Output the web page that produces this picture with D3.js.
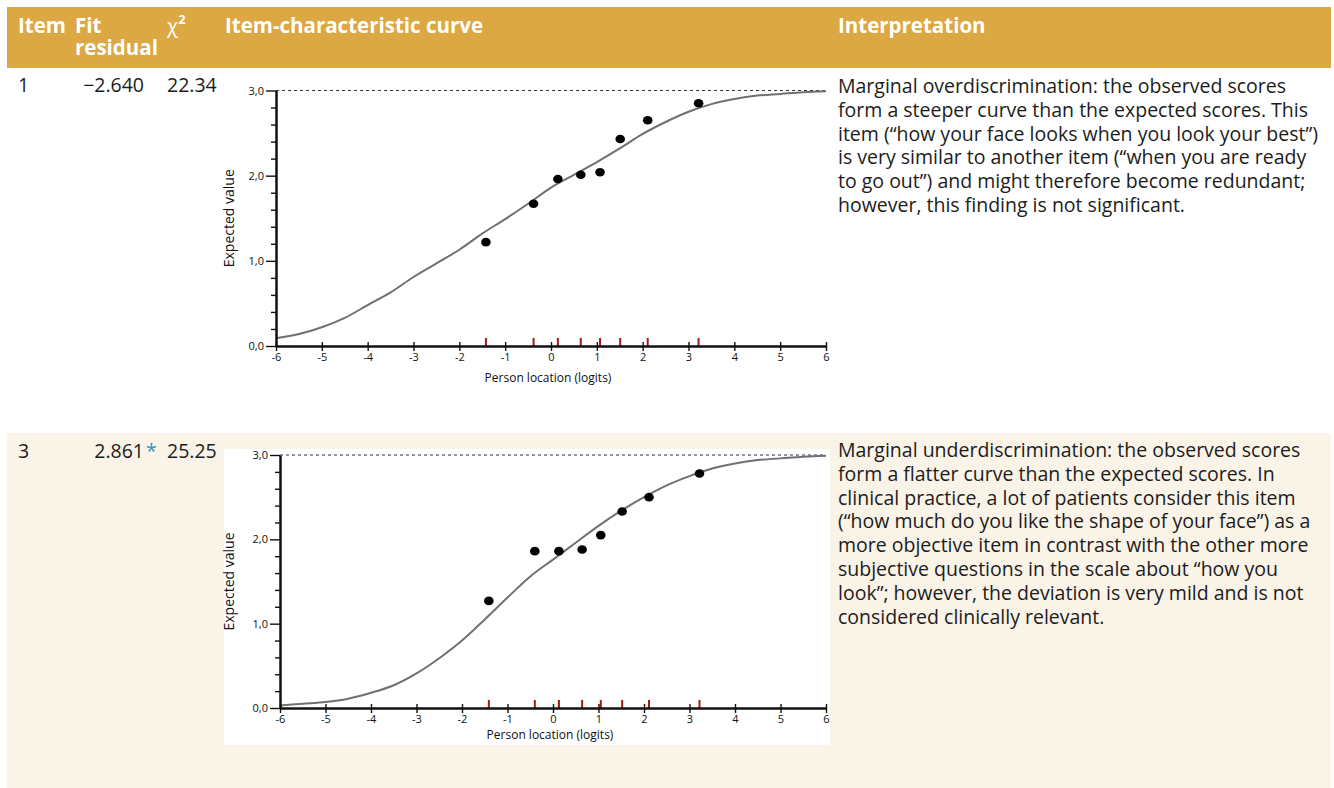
<!DOCTYPE html>
<html>
<head>
<meta charset="utf-8">
<script src="https://cdn.jsdelivr.net/npm/d3@7"></script>
<style>
  body { margin: 0; background: #fff; }
  svg { display: block; font-family: "Open Sans", sans-serif; }
</style>
</head>
<body>
<svg id="chart" width="1334" height="788"></svg>
<script>
// table content
const headers = ["Item", "Fit", "residual", "χ", "Item-characteristic curve", "Interpretation"];
const items = ["1", "3"];
const fitResiduals = ["\u22122.640", "2.861"];
const fitFlags = ["", "*"];
const chiSquares = ["22.34", "25.25"];
const interpretations = [
  ["Marginal overdiscrimination: the observed scores",
   "form a steeper curve than the expected scores. This",
   "item (\u201chow your face looks when you look your best\u201d)",
   "is very similar to another item (\u201cwhen you are ready",
   "to go out\u201d) and might therefore become redundant;",
   "however, this finding is not significant."],
  ["Marginal underdiscrimination: the observed scores",
   "form a flatter curve than the expected scores. In",
   "clinical practice, a lot of patients consider this item",
   "(\u201chow much do you like the shape of your face\u201d) as a",
   "more objective item in contrast with the other more",
   "subjective questions in the scale about \u201chow you",
   "look\u201d; however, the deviation is very mild and is not",
   "considered clinically relevant."]
];

const curveLocations = [-6, -5.5, -5, -4.5, -4, -3.5, -3, -2.5, -2, -1.5, -1, -0.5, 0,
                        0.5, 1, 1.5, 2, 2.5, 3, 3.5, 4, 4.5, 5, 5.5, 6];
const expectedItem1 = [0.09, 0.14, 0.22, 0.33, 0.48, 0.63, 0.81, 0.97, 1.13, 1.32, 1.49, 1.67, 1.86,
                       2.01, 2.16, 2.32, 2.49, 2.63, 2.75, 2.84, 2.90, 2.94, 2.96, 2.98, 2.99];
const expectedItem3 = [0.03, 0.05, 0.07, 0.11, 0.18, 0.27, 0.41, 0.59, 0.80, 1.05, 1.31, 1.56, 1.76,
                       1.96, 2.16, 2.34, 2.50, 2.64, 2.75, 2.84, 2.90, 2.94, 2.96, 2.98, 2.99];

// observed class-interval means
const obsLocItem1 = [-1.42, -0.38, 0.15, 0.65, 1.07, 1.51, 2.11, 3.22];
const obsValItem1 = [1.22, 1.67, 1.96, 2.01, 2.04, 2.43, 2.65, 2.85];
const obsLocItem3 = [-1.41, -0.40, 0.13, 0.64, 1.05, 1.52, 2.11, 3.22];
const obsValItem3 = [1.27, 1.86, 1.86, 1.88, 2.05, 2.33, 2.50, 2.78];

const xTicks = [-6, -5, -4, -3, -2, -1, 0, 1, 2, 3, 4, 5, 6];
const yTicks = [0, 1, 2, 3];

const svg = d3.select("#chart");
const gold = "#dba843";
const cream = "#faf3e8";
const ink = "#1c1c1c";

// backgrounds
svg.append("rect").attr("x", 7).attr("y", 7).attr("width", 1324).attr("height", 61).attr("fill", gold);
svg.append("rect").attr("x", 7).attr("y", 433).attr("width", 1324).attr("height", 355).attr("fill", cream);

// header
const head = svg.append("g").attr("fill", "#fff").attr("font-weight", 700).attr("font-size", 20.5);
head.append("text").attr("x", 18).attr("y", 33).text(headers[0]);
const fit = head.append("text").attr("x", 75).attr("y", 33);
fit.append("tspan").attr("x", 75).text(headers[1]);
fit.append("tspan").attr("x", 75).attr("dy", 22).text(headers[2]);
const chi = head.append("text").attr("x", 167).attr("y", 33);
chi.append("tspan").attr("font-weight", 400).text(headers[3]);
chi.append("tspan").attr("font-size", 13).attr("dy", -9).text("2");
head.append("text").attr("x", 225).attr("y", 33).text(headers[4]);
head.append("text").attr("x", 838).attr("y", 33).text(headers[5]);

// rows
const rowBase = [92, 458];
const interpBase = [93, 457];
items.forEach((item, i) => {
  const g = svg.append("g").attr("font-size", 19.5).attr("fill", ink);
  g.append("text").attr("x", 18).attr("y", rowBase[i]).text(item);
  g.append("text").attr("x", 144).attr("y", rowBase[i]).attr("text-anchor", "end").text(fitResiduals[i]);
  if (fitFlags[i]) {
    g.append("text").attr("x", 146).attr("y", rowBase[i]).attr("fill", "#2b93c2").text(fitFlags[i]);
  }
  g.append("text").attr("x", 167).attr("y", rowBase[i]).text(chiSquares[i]);
  g.append("g").selectAll("text")
    .data(interpretations[i])
    .join("text")
    .attr("x", 838)
    .attr("y", (d, k) => interpBase[i] + k * 23.8)
    .text(d => d);
});

// item-characteristic curve panel
function drawICC(cfg) {
  const g = svg.append("g");
  if (cfg.panel) {
    g.append("rect").attr("x", cfg.panel[0]).attr("y", cfg.panel[1])
      .attr("width", cfg.panel[2]).attr("height", cfg.panel[3]).attr("fill", "#fff");
  }
  const x = d3.scaleLinear().domain([-6, 6]).range(cfg.xRange);
  const y = d3.scaleLinear().domain([0, 3]).range(cfg.yRange);
  const font = "'Open Sans', sans-serif";

  // upper asymptote
  g.append("line")
    .attr("x1", x(-6)).attr("x2", x(6)).attr("y1", y(3)).attr("y2", y(3))
    .attr("stroke", "#333").attr("stroke-width", 1.1).attr("stroke-dasharray", "3,3");

  // expected curve
  const line = d3.line()
    .x((d, k) => x(curveLocations[k]))
    .y(d => y(d))
    .curve(d3.curveMonotoneX);
  g.append("path").datum(cfg.expected).attr("d", line)
    .attr("fill", "none").attr("stroke", "#707070").attr("stroke-width", 2);

  // class-interval rug
  g.append("g").selectAll("line")
    .data(cfg.obsLoc)
    .join("line")
    .attr("x1", d => x(d)).attr("x2", d => x(d))
    .attr("y1", y(0) - 8).attr("y2", y(0))
    .attr("stroke", "#a11a1a").attr("stroke-width", 2);

  // x axis
  const xAxis = g.append("g")
    .attr("transform", `translate(0,${y(0)})`)
    .call(d3.axisBottom(x).tickValues(xTicks).tickSize(5).tickSizeOuter(0).tickPadding(2)
      .tickFormat(d => String(d)));
  xAxis.select(".domain").attr("stroke", "#111").attr("stroke-width", 2.5);
  xAxis.selectAll(".tick line").attr("y1", -4).attr("stroke", "#111").attr("stroke-width", 1.4);
  xAxis.selectAll(".tick text").attr("font-family", font).attr("font-size", 11).attr("fill", "#111");

  // y axis, major and minor ticks
  const minor = d3.range(0, 3.01, 0.2).filter(v => Math.abs(v - Math.round(v)) > 0.01);
  const yMinor = g.append("g")
    .attr("transform", `translate(${x(-6)},0)`)
    .call(d3.axisLeft(y).tickValues(minor).tickSize(5).tickSizeOuter(0).tickFormat(""));
  yMinor.select(".domain").remove();
  yMinor.selectAll(".tick line").attr("stroke", "#111").attr("stroke-width", 1.4);

  const yAxis = g.append("g")
    .attr("transform", `translate(${x(-6)},0)`)
    .call(d3.axisLeft(y).tickValues(yTicks).tickSize(10).tickSizeOuter(0).tickPadding(2)
      .tickFormat(d => d.toFixed(1).replace(".", ",")));
  yAxis.select(".domain").attr("stroke", "#111").attr("stroke-width", 2.5);
  yAxis.selectAll(".tick line").attr("stroke", "#111").attr("stroke-width", 1.4);
  yAxis.selectAll(".tick text").attr("font-family", font).attr("font-size", 11).attr("fill", "#111");

  // observed means
  g.append("g").selectAll("ellipse")
    .data(cfg.obsVal)
    .join("ellipse")
    .attr("cx", (d, k) => x(cfg.obsLoc[k]))
    .attr("cy", d => y(d))
    .attr("rx", 4.8).attr("ry", 4.3)
    .attr("fill", "#000");

  // axis titles
  g.append("text")
    .attr("x", (x(-6) + x(6)) / 2 - 3).attr("y", cfg.xTitleY)
    .attr("text-anchor", "middle").attr("font-size", 12).attr("fill", "#111")
    .text("Person location (logits)");
  g.append("text")
    .attr("transform", `translate(${cfg.yTitleX},${(y(0) + y(3)) / 2}) rotate(-90)`)
    .attr("text-anchor", "middle").attr("font-size", 14).attr("fill", "#111")
    .text("Expected value");
}

drawICC({
  xRange: [276, 826], yRange: [346, 90.5],
  expected: expectedItem1, obsLoc: obsLocItem1, obsVal: obsValItem1,
  xTitleY: 382, yTitleX: 234
});
drawICC({
  panel: [224, 449, 606, 296],
  xRange: [280, 826], yRange: [708, 455],
  expected: expectedItem3, obsLoc: obsLocItem3, obsVal: obsValItem3,
  xTitleY: 739, yTitleX: 234
});
</script>
</body>
</html>
